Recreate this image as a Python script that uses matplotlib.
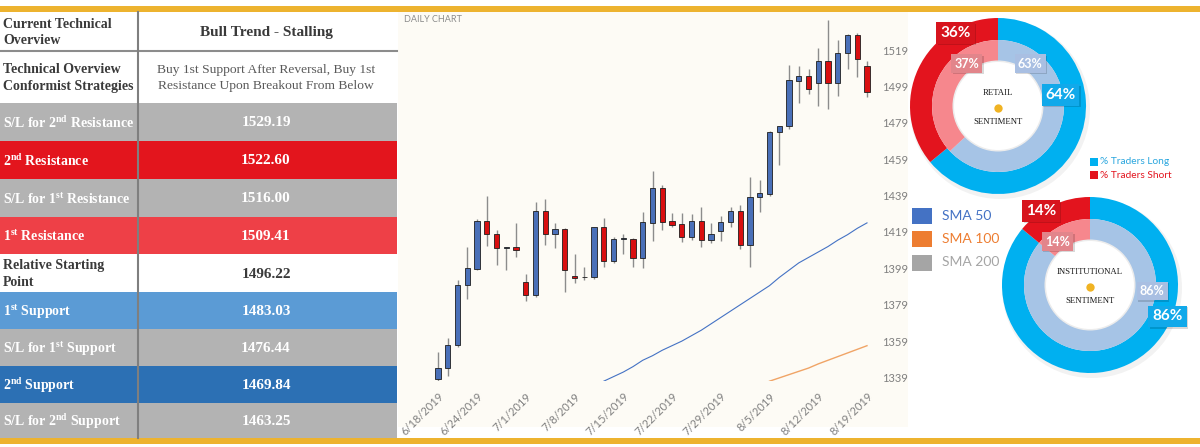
import numpy as np
import pandas as pd
import matplotlib.pyplot as plt
from matplotlib.patches import Rectangle, Circle

plt.rcParams['font.family'] = ['Lato', 'DejaVu Sans']
plt.rcParams['mathtext.fontset'] = 'custom'
plt.rcParams['mathtext.rm'] = 'Liberation Serif'
plt.rcParams['mathtext.bf'] = 'Liberation Serif:bold'

# ---------------- data ----------------
dates = pd.bdate_range('2019-06-18', '2019-08-19')
opens = [1338, 1344, 1357, 1390, 1398.5, 1425, 1418, 1410, 1410.5, 1391.5,
         1384.5, 1430.5, 1418, 1420.5, 1395, 1394, 1394.5, 1421.5, 1403, 1415,
         1415, 1404.5, 1424, 1443, 1425, 1423.5, 1416, 1425, 1414.5, 1419.5,
         1424.5, 1430.5, 1412, 1438, 1440, 1474, 1477, 1502, 1505, 1501,
         1513, 1501, 1517.5, 1527, 1510]
closes = [1344, 1357, 1390, 1399, 1425, 1418, 1410, 1410.5, 1409, 1384.5,
          1430.5, 1418, 1420.5, 1398, 1393.5, 1394.5, 1421.5, 1403, 1415, 1415.5,
          1404.5, 1424.5, 1443, 1424.5, 1423, 1416.5, 1425, 1414.5, 1418, 1424.5,
          1430.5, 1412, 1438, 1440.5, 1474, 1477, 1502.5, 1505, 1497.5, 1513,
          1501, 1517.5, 1527.5, 1514, 1496]
highs = [1353, 1361, 1392.5, 1411, 1426, 1439, 1420, 1411, 1424, 1396,
         1435.5, 1437, 1424, 1421, 1407, 1400, 1422, 1426.5, 1416, 1418,
         1415.5, 1430, 1452.5, 1445, 1429.5, 1429.5, 1429, 1433, 1424, 1428,
         1433, 1434, 1449, 1447.5, 1474.5, 1477.5, 1511, 1510, 1508.5, 1520,
         1535.5, 1524.5, 1528, 1528.5, 1513]
lows = [1337, 1340, 1356, 1382, 1398, 1411.5, 1401, 1398, 1405, 1381,
        1383.5, 1412, 1410, 1386, 1391, 1392.5, 1393, 1400, 1402, 1407,
        1400, 1399, 1414, 1420, 1421.5, 1413.5, 1414.5, 1410.5, 1413, 1414,
        1422, 1409.5, 1400, 1430, 1439, 1456, 1475.5, 1490, 1495, 1488,
        1486.5, 1494, 1508.5, 1504, 1493]

sma50_start = 17
sma50 = [1337.0, 1339.5, 1342.0, 1345.0, 1348.5, 1351.0, 1354.0, 1356.5, 1359.0,
         1362.0, 1365.0, 1368.5, 1372.0, 1375.5, 1379.0, 1382.5, 1386.0, 1389.5,
         1394.0, 1398.0, 1402.0, 1405.0, 1408.0, 1411.0, 1414.5, 1417.5, 1421.0,
         1424.0]
sma100_start = 34
sma100 = [1337.0, 1338.8, 1340.6, 1342.4, 1344.2, 1346.5, 1348.5, 1350.5,
          1352.5, 1354.5, 1356.5]

yticks = [1339, 1359, 1379, 1399, 1419, 1439, 1459, 1479, 1499, 1519]
tick_pos = [0, 4, 9, 14, 19, 24, 29, 34, 39, 44]

row_labels = ['Current Technical\nOverview', 'Technical Overview\nConformist Strategies',
              'S/L for 2$^{\\mathbf{nd}}$ Resistance', '2$^{\\mathbf{nd}}$ Resistance',
              'S/L for 1$^{\\mathbf{st}}$ Resistance', '1$^{\\mathbf{st}}$ Resistance',
              'Relative Starting\nPoint', '1$^{\\mathbf{st}}$ Support',
              'S/L for 1$^{\\mathbf{st}}$ Support', '2$^{\\mathbf{nd}}$ Support',
              'S/L for 2$^{\\mathbf{nd}}$ Support']
row_values = ['Bull Trend - Stalling',
              'Buy 1st Support After Reversal, Buy 1st\nResistance Upon Breakout From Below',
              '1529.19', '1522.60', '1516.00', '1509.41', '1496.22',
              '1483.03', '1476.44', '1469.84', '1463.25']
row_colors = ['white', 'white', '#B3B3B3', '#E3151D', '#B3B3B3', '#EE4047',
              'white', '#5B9BD5', '#B3B3B3', '#2C70B4', '#B3B3B3']

retail = [64, 36]          # outer: long, short
retail_inner = [63, 37]
inst = [86, 14]
inst_inner = [86, 14]

sma_names = ['SMA 50', 'SMA 100', 'SMA 200']
sma_colors = ['#4472C4', '#ED7D31', '#A5A5A5']

# ---------------- figure ----------------
W, H = 1200, 447
fig = plt.figure(figsize=(12, 4.47), dpi=100)
ov = fig.add_axes([0, 0, 1, 1])
ov.axis('off')

# gold rules and cream chart panel
ov.add_patch(Rectangle((0, 6), 1200, 6, color='#EDB32F', lw=0))
ov.add_patch(Rectangle((0, 438), 1200, 6, color='#EDB32F', lw=0))
ov.add_patch(Rectangle((398, 12), 510, 415, color='#FDFBF5', lw=0))

# table
edges = [12, 51, 103, 141, 179, 217, 254, 292, 329, 366, 403, 438]
for i, lab in enumerate(row_labels):
    y0, y1 = edges[i], edges[i + 1]
    ym = (y0 + y1) / 2
    ov.add_patch(Rectangle((0, y0), 397, y1 - y0, color=row_colors[i], lw=0))
    tc = '#3A3A3A' if row_colors[i] == 'white' else 'white'
    ov.text(3, ym + 1, lab, ha='left', va='center', fontsize=10, color=tc,
            fontweight='bold', family='Liberation Serif', linespacing=1.35)
    if i == 1:
        ov.text(266, ym + 1, row_values[i], ha='center', va='center', fontsize=9.7,
                color='#595959', family='Liberation Serif', linespacing=1.4)
    else:
        ov.text(266, ym + 1, row_values[i], ha='center', va='center', fontsize=11,
                color=tc, fontweight='bold', family='Liberation Serif')
ov.plot([0, 397], [51, 51], color='#8C8C8C', lw=1.5)
ov.plot([137.5, 137.5], [12, 438], color='#7F7F7F', lw=1.5)

ov.text(404, 20, 'DAILY CHART', fontsize=6.5, color='#8C8C8C', va='center')

# donuts
def donut(cx, cy, outer, inner, title, boxes):
    ov.add_patch(Circle((cx + 2, cy + 3), 90, color='black', alpha=0.05, lw=0))
    ov.pie(outer, radius=88, center=(cx, cy), startangle=-90, counterclock=True,
           colors=['#00B0F0', '#E3141E'], wedgeprops=dict(width=22, lw=0))
    ov.pie(inner, radius=66, center=(cx, cy), startangle=-90, counterclock=True,
           colors=['#A6C4E6', '#F6878D'], wedgeprops=dict(width=22, lw=0))
    ov.add_patch(Circle((cx, cy), 45.5, color='#ECECEC', lw=0))
    ov.add_patch(Circle((cx, cy), 44, color='white', lw=0))
    ov.text(cx, cy - 13, title, ha='center', va='center', fontsize=6.3,
            family='Liberation Serif', color='#1A1A1A')
    ov.plot(cx, cy + 1.5, 'o', ms=6, color='#F0B323', mec='none')
    ov.text(cx, cy + 16, 'SENTIMENT', ha='center', va='center', fontsize=6.3,
            family='Liberation Serif', color='#1A1A1A')
    vals = [outer[1], inner[1], inner[0], outer[0]]
    fcs = ['#D7141D', '#E2858B', '#A9BFE2', '#11A9EA']
    sizes = [11, 9, 9, 11]
    for (bx, by), v, fc, fs in zip(boxes, vals, fcs, sizes):
        ov.text(bx + 1.5, by + 1.5, f'{v}%', ha='center', va='center', fontsize=fs,
                fontweight='bold', color='none',
                bbox=dict(boxstyle='square,pad=0.25', fc='black', ec='none', alpha=0.15))
        ov.text(bx, by, f'{v}%', ha='center', va='center', fontsize=fs,
                fontweight='bold', color='white',
                bbox=dict(boxstyle='square,pad=0.25', fc=fc, ec='none'))

donut(998, 106, retail, retail_inner, 'RETAIL',
      [(955.5, 33), (966.5, 63.5), (1030, 63.5), (1060.5, 95)])
donut(1090, 285, inst, inst_inner, 'INSTITUTIONAL',
      [(1041, 211), (1057.5, 241.5), (1152, 291), (1167.5, 316.5)])

# traders legend
ov.add_patch(Rectangle((1090, 157.5), 8, 8, color='#00B0F0', lw=0))
ov.add_patch(Rectangle((1090, 170.5), 8, 8, color='#E3141E', lw=0))
ov.text(1100, 162, '% Traders Long', fontsize=7.3, color='#2AA6DE', va='center')
ov.text(1100, 175, '% Traders Short', fontsize=7.3, color='#E3141E', va='center')

# SMA legend
for k, (nm, c) in enumerate(zip(sma_names, sma_colors)):
    yc = 215.5 + k * 23.5
    ov.add_patch(Rectangle((912, yc - 8), 20, 16, color=c, lw=0))
    ov.text(942, yc, nm, fontsize=10, color=c, va='center')

ov.set_xlim(0, W)
ov.set_ylim(H, 0)
ov.set_aspect('auto')

# candle chart
ax = fig.add_axes([397 / W, 1 - 381 / H, (878 - 397) / W, (381 - 14) / H])
ax.set_facecolor('none')
o = np.array(opens); c = np.array(closes)
xi = np.arange(len(dates))
up = c >= o
ax.vlines(xi, lows, highs, color='#8C8C8C', lw=1, zorder=1)
ax.bar(xi, c - o, bottom=o, width=0.55, color=np.where(up, '#4A70B8', '#D90F10'),
       edgecolor='#1E1E1E', lw=0.6, zorder=2)
ax.plot(xi[sma50_start:], sma50, color='#4472C4', lw=0.8, zorder=3)
ax.plot(xi[sma100_start:], sma100, color='#F0A466', lw=1.0, zorder=3)
ax.set_xlim((397 - 438) / 9.75, (878 - 438) / 9.75)
ax.set_ylim(1337.1, 1538.8)
ax.yaxis.tick_right()
ax.set_yticks(yticks)
ax.tick_params(axis='y', length=0, pad=3, labelcolor='#7F7F7F', labelsize=8)
ax.set_xticks(tick_pos)
ax.set_xticklabels([f'{d.month}/{d.day}/{d.year}' for d in dates[tick_pos]],
                   rotation=45, ha='right', rotation_mode='anchor')
ax.tick_params(axis='x', length=0, pad=7, labelcolor='#7F7F7F', labelsize=8)
for s in ax.spines.values():
    s.set_visible(False)

fig.savefig('out.png', dpi=100, facecolor='white')
